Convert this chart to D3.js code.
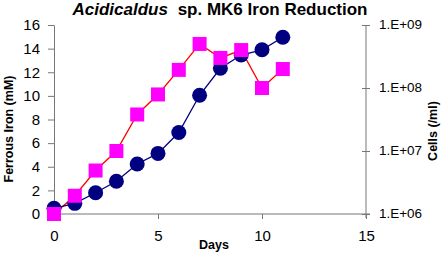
<!DOCTYPE html>
<html>
<head>
<meta charset="utf-8">
<script src="https://cdn.jsdelivr.net/npm/d3@7"></script>
<style>
  body { margin: 0; background: #fff; }
  text { font-family: "Liberation Sans", Arial, sans-serif; }
</style>
</head>
<body>
<div id="chart"></div>
<script>
// data
const days = [0, 1, 2, 3, 4, 5, 6, 7, 8, 9, 10, 11];
const ferrousIron = [0.48, 0.9, 1.8, 2.77, 4.23, 5.13, 6.9, 10.05, 12.34, 13.46, 13.9, 14.96];
const cells = [1.0e6, 1.95e6, 4.9e6, 1.0e7, 3.8e7, 7.9e7, 1.94e8, 5.0e8, 3.0e8, 4.0e8, 1.0e8, 2.0e8];
const leftTicks = [0, 2, 4, 6, 8, 10, 12, 14, 16];
const rightTicks = [1e6, 1e7, 1e8, 1e9];
const rightTickLabels = ["1.E+06", "1.E+07", "1.E+08", "1.E+09"];
const xTicks = [0, 5, 10, 15];

const margin = {top: 25, right: 77, bottom: 42, left: 54},
width = 443 - margin.left - margin.right,
height = 256 - margin.top - margin.bottom;

const svg = d3.select("#chart")
.append("svg")
.attr("width", 443)
.attr("height", 256)
.append("g")
.attr("transform", `translate(${margin.left}, ${margin.top})`);

const x = d3.scaleLinear().domain([0, 15]).range([0, width]);
const y = d3.scaleLinear().domain([0, 16]).range([height, 0]);
const y2 = d3.scaleLog().domain([1e6, 1e9]).range([height, 0]);

// X axis
const xAxis = svg.append("g")
.attr("transform", `translate(0, ${height})`)
.call(d3.axisBottom(x).tickValues(xTicks).tickSize(5).tickPadding(11).tickSizeOuter(0));
xAxis.select(".domain").attr("d", `M0,0H${width + 4}`);
xAxis.selectAll("text").style("font-size", "15px").attr("fill", "#000");

// Left axis
const yAxis = svg.append("g")
.call(d3.axisLeft(y).tickValues(leftTicks).tickSize(6).tickPadding(8).tickSizeOuter(0));
yAxis.selectAll("text").style("font-size", "15px").attr("fill", "#000");

// Right axis (ticks cross the line)
const y2Axis = svg.append("g")
.attr("transform", `translate(${width}, 0)`)
.call(d3.axisRight(y2).tickValues(rightTicks)
  .tickFormat((d, i) => rightTickLabels[i]).tickSize(4).tickPadding(9).tickSizeOuter(0));
y2Axis.selectAll(".tick line").attr("x1", -4);
y2Axis.select(".domain").attr("d", `M0,0V${height + 4}`);
y2Axis.selectAll("text")
  .style("font-size", "12px")
  .attr("fill", "#000")
  .attr("textLength", 43)
  .attr("lengthAdjust", "spacingAndGlyphs");

svg.selectAll(".domain, .tick line").attr("stroke", "#777");

// Cells series
svg.append("path")
.datum(days.map((d, i) => [d, cells[i]]))
.attr("fill", "none")
.attr("stroke", "#ff0000")
.attr("stroke-width", 1.3)
.attr("d", d3.line().x(d => x(d[0])).y(d => y2(d[1])));

// Ferrous iron series
svg.append("path")
.datum(days.map((d, i) => [d, ferrousIron[i]]))
.attr("fill", "none")
.attr("stroke", "#000080")
.attr("stroke-width", 1.3)
.attr("d", d3.line().x(d => x(d[0])).y(d => y(d[1])));

svg.append("g")
.selectAll("circle")
.data(days)
.join("circle")
  .attr("cx", d => x(d))
  .attr("cy", (d, i) => y(ferrousIron[i]))
  .attr("r", 7.5)
  .style("fill", "#000080");

svg.append("g")
.selectAll("rect")
.data(days)
.join("rect")
  .attr("x", d => x(d) - 7)
  .attr("y", (d, i) => y2(cells[i]) - 7)
  .attr("width", 14)
  .attr("height", 14)
  .style("fill", "#ff00ff");

// Title
const title = d3.select("svg").append("text")
.attr("x", 220)
.attr("y", 15)
.attr("text-anchor", "middle")
.style("font-size", "17px")
.style("font-weight", "bold");
title.append("tspan").style("font-style", "italic").text("Acidicaldus");
title.append("tspan").attr("dx", 5).text(" sp. MK6 Iron Reduction");

// Axis titles
d3.select("svg").append("text")
.attr("x", 214)
.attr("y", 249)
.attr("text-anchor", "middle")
.style("font-size", "12.5px")
.style("font-weight", "bold")
.text("Days");

d3.select("svg").append("text")
.attr("transform", "translate(13, 129) rotate(-90)")
.attr("text-anchor", "middle")
.style("font-size", "12.5px")
.style("font-weight", "bold")
.text("Ferrous Iron (mM)");

d3.select("svg").append("text")
.attr("transform", "translate(437, 131) rotate(-90)")
.attr("text-anchor", "middle")
.style("font-size", "12.5px")
.style("font-weight", "bold")
.text("Cells (/ml)");
</script>
</body>
</html>
